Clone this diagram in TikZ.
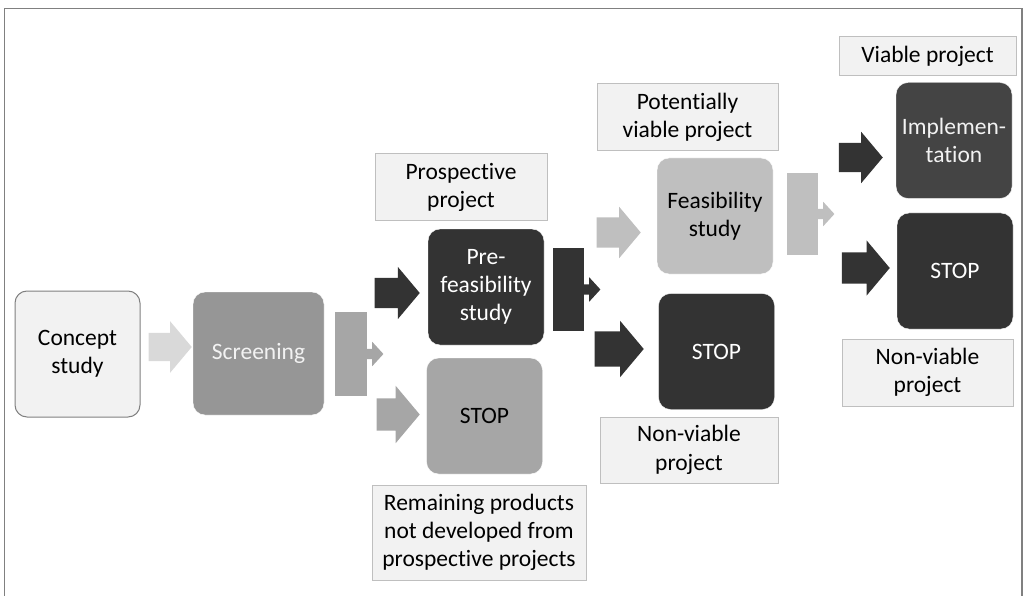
\documentclass[tikz,border=0pt]{standalone}
\usepackage{fontspec}
\setmainfont{Carlito}[Ligatures={NoCommon}]
\usetikzlibrary{shapes.arrows}
\definecolor{paleFill}{RGB}{242,242,242}
\definecolor{paleLine}{RGB}{191,191,191}
\definecolor{frameGray}{RGB}{128,128,128}
\definecolor{lightArrow}{RGB}{217,217,217}
\definecolor{midGray}{RGB}{150,150,150}
\definecolor{stopGray}{RGB}{166,166,166}
\definecolor{feasGray}{RGB}{191,191,191}
\definecolor{darkGray}{RGB}{51,51,51}
\definecolor{implGray}{RGB}{68,68,68}
\definecolor{textLight}{RGB}{242,242,242}
\tikzstyle{stage}=[rectangle, rounded corners=12pt, draw=white, align=center, minimum width=116pt, minimum height=116pt, inner sep=0pt, font=\fontsize{23.5}{28.3}\selectfont]
\tikzstyle{label}=[rectangle, fill=paleFill, draw=paleLine, line width=1pt, align=center, inner sep=0pt, font=\fontsize{23.5}{28.3}\selectfont]
\tikzstyle{bracket}=[rectangle, draw=none, inner sep=0pt, minimum width=32pt]
\tikzset{
  blockarrow/.style n args={3}{single arrow, draw=none, anchor=tip, inner xsep=0pt, inner ysep=#2, minimum height=#1, single arrow head extend=#3, single arrow tip angle=100},
  smallarrow/.style={single arrow, draw=none, anchor=tail, inner xsep=0pt, inner ysep=5pt, minimum height=17pt, single arrow head extend=7pt, single arrow tip angle=95}
}

\begin{document}
\begin{tikzpicture}[x=1pt, y=-1pt]
\useasboundingbox (0,0) rectangle (1025,596);
% Frame
    \draw[frameGray, line width=1.5pt] (4.5,596) -- (4.5,8.5) -- (1022,8.5) -- (1022,596);
% Stages
    \node[stage, draw=frameGray, line width=1pt, fill=paleFill, minimum width=125pt, minimum height=126pt] (concept) at (77.5,354) {Concept\\study};
    \node[stage, fill=midGray, text=textLight, minimum width=131pt, minimum height=123pt] (screen) at (258.5,353.5) {Screening};
    \node[stage, fill=darkGray, text=white] (prefeas) at (486,287) {Pre-\\feasibility\\study};
    \node[stage, fill=stopGray, text=black] (stopA) at (484.5,416) {STOP};
    \node[stage, fill=feasGray, text=black] (feas) at (715,216) {Feasibility\\study};
    \node[stage, fill=darkGray, text=white] (stopB) at (716.5,351.5) {STOP};
    \node[stage, fill=implGray, text=textLight] (impl) at (954,140.5) {Implemen-\\tation};
    \node[stage, fill=darkGray, text=white] (stopC) at (955,271) {STOP};
% Labels
    \node[label, minimum width=172pt, minimum height=67pt] (lblProsp) at (461,187.5) {Prospective\\project};
    \node[label, minimum width=214pt, minimum height=95pt] (lblRemain) at (479,532.5) {Remaining products\\not developed from\\prospective projects};
    \node[label, minimum width=181pt, minimum height=67pt] (lblPotent) at (687.5,117.5) {Potentially\\viable project};
    \node[label, minimum width=178pt, minimum height=66pt] (lblNonB) at (689,450) {Non-viable\\project};
    \node[label, minimum width=177pt, minimum height=39pt] (lblViable) at (927.5,56.5) {Viable project};
    \node[label, minimum width=171pt, minimum height=67pt] (lblNonC) at (927.5,372.5) {Non-viable\\project};
% Block arrows
    \node[blockarrow={43pt}{14pt}{11.5pt}, fill=lightArrow] (toScreen) at (192,347) {};
    \node[blockarrow={45pt}{15pt}{11pt}, fill=darkGray] (toPrefeas) at (420,293) {};
    \node[blockarrow={43pt}{16pt}{12.5pt}, fill=stopGray] (toStopA) at (420,414.5) {};
    \node[blockarrow={44pt}{15pt}{10.5pt}, fill=feasGray] (toFeas) at (641,232.5) {};
    \node[blockarrow={49pt}{17.5pt}{10.5pt}, fill=darkGray] (toStopB) at (644,349) {};
    \node[blockarrow={44pt}{14.5pt}{11pt}, fill=darkGray] (toImpl) at (883,157.5) {};
    \node[blockarrow={48pt}{15.5pt}{12pt}, fill=darkGray] (toStopC) at (890,268) {};
% Split brackets
    \node[bracket, fill=stopGray, minimum height=84pt] (splitA) at (351,354) {};
    \node[smallarrow, fill=stopGray] (splitArrA) at ([xshift=-1pt]splitA.east) {};
    \node[bracket, fill=darkGray, minimum height=83pt, minimum width=31pt] (splitB) at (568.5,289.5) {};
    \node[smallarrow, fill=darkGray] (splitArrB) at ([xshift=-1pt]splitB.east) {};
    \node[bracket, fill=feasGray, minimum height=82pt, minimum width=31pt] (splitC) at (802.5,214) {};
    \node[smallarrow, fill=feasGray] (splitArrC) at ([xshift=-1pt]splitC.east) {};
\end{tikzpicture}
\end{document}
